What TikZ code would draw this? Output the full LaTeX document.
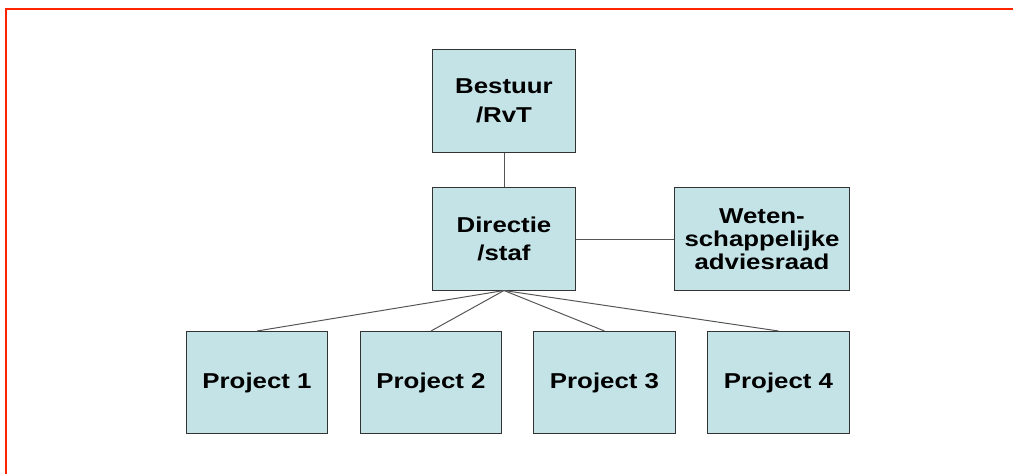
\documentclass[tikz,border=0pt]{standalone}
\usepackage{fontspec}
\setmainfont{Liberation Sans}[FakeStretch=1.2]
\definecolor{boxblue}{RGB}{196,227,231}
\definecolor{framered}{RGB}{255,36,0}
\definecolor{edgegray}{RGB}{85,85,85}
\tikzset{
  orgbox/.style={draw=black!80,fill=boxblue,line width=0.7pt,inner sep=0pt,
    minimum height=2.55cm,align=center,
    font=\bfseries\fontsize{15.3}{20.5}\selectfont},
  orgedge/.style={draw=edgegray,line width=0.7pt}
}
\begin{document}
\begin{tikzpicture}[x=0.025cm,y=-0.025cm]
    \useasboundingbox (0,0) rectangle (1013,474);
    \draw[framered,line width=1.4pt] (1013,9) -- (6,9) -- (6,474);
    \node[orgbox,minimum width=3.55cm] (bestuur) at (504,101) {Bestuur\\/RvT};
    \node[orgbox,minimum width=3.55cm] (directie) at (504,239) {Directie\\/staf};
    \node[orgbox,minimum width=4.35cm,
      font=\bfseries\fontsize{15.3}{16.5}\selectfont] (raad) at (762,239)
      {Weten-\\schappelijke\\adviesraad};
    \foreach \i/\x in {1/257,2/431,3/604.5,4/778.5}
      \node[orgbox,minimum width=3.525cm] (project\i) at (\x,382.5) {Project \i};
    %\draw[help lines] (0,0) grid[step=50] (1013,474);
    \draw[orgedge] (bestuur) -- (directie);
    \draw[orgedge] (directie) -- (raad);
    \foreach \i in {1,...,4}
      \draw[orgedge] (directie.south) -- (project\i.north);
  \end{tikzpicture}
\end{document}
